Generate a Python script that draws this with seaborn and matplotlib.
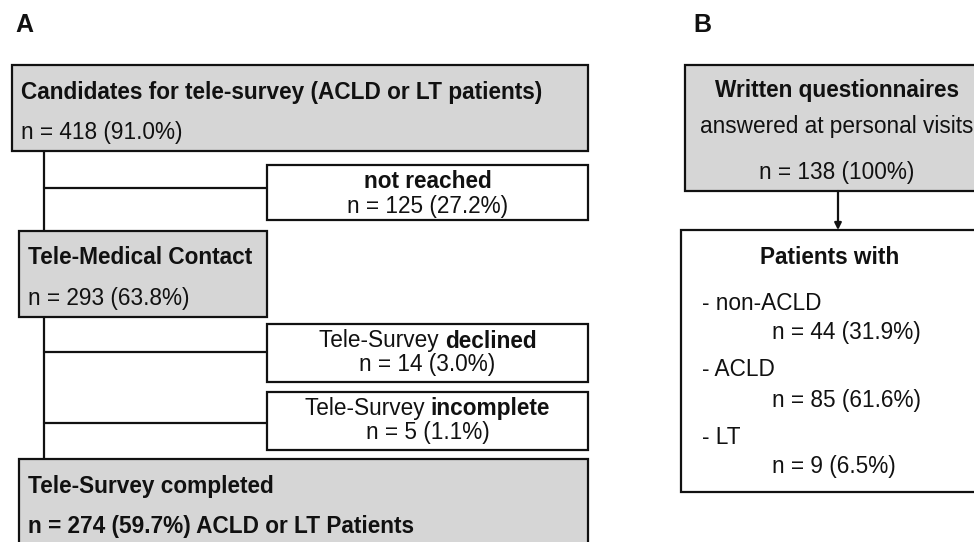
import matplotlib
matplotlib.use("Agg")
import matplotlib.pyplot as plt
from matplotlib.patches import Rectangle
import seaborn as sns

# ─── Data ─────────────────────────────────────────────────────────────────────
stage_titles = ["Candidates for tele-survey (ACLD or LT patients)",
                "Tele-Medical Contact",
                "Tele-Survey completed"]
stage_n = [418, 293, 274]
stage_pct = [91.0, 63.8, 59.7]
stage_suffix = ["", "", " ACLD or LT Patients"]

excl_prefix = ["", "Tele-Survey ", "Tele-Survey "]
excl_bold = ["not reached", "declined", "incomplete"]
excl_n = [125, 14, 5]
excl_pct = [27.2, 3.0, 1.1]

b_title = "Written questionnaires"
b_subtitle = "answered at personal visits"
b_total_n = 138
b_total_pct = 100
b_groups = ["non-ACLD", "ACLD", "LT"]
b_group_n = [44, 85, 9]
b_group_pct = [31.9, 61.6, 6.5]

# ─── Style ────────────────────────────────────────────────────────────────────
sns.set_theme(style="white")
plt.rcParams["font.family"] = ["Liberation Sans", "DejaVu Sans"]
GRAY = "#d6d6d6"
INK = "#111111"
LW = 1.6
FS = 16.3

fig = plt.figure(figsize=(9.74, 5.42), dpi=100)
ax = fig.add_axes([0, 0, 1, 1])
ax.set_xlim(0, 974)
ax.set_ylim(542, 0)
ax.axis("off")


def box(x0, y0, x1, y1, fill):
    ax.add_patch(Rectangle((x0, y0), x1 - x0, y1 - y0, facecolor=fill,
                           edgecolor=INK, lw=LW, zorder=2))


def mixed_line(xc, y, normal, bold):
    """Centred line made of a normal part followed by a bold part."""
    r = fig.canvas.get_renderer()
    t1 = ax.text(0, y, normal, fontsize=FS, color=INK, va="center", zorder=3)
    t2 = ax.text(0, y, bold, fontsize=FS, color=INK, fontweight="bold",
                 va="center", zorder=3)
    w1 = t1.get_window_extent(r).width if normal else 0
    w2 = t2.get_window_extent(r).width
    start = xc - (w1 + w2) / 2
    t1.set_x(start)
    t2.set_x(start + w1)


# ─── Panel A ──────────────────────────────────────────────────────────────────
ax.text(15, 25, "A", fontsize=18, fontweight="bold", va="center", color=INK)

trunk_x = 44
right = 588
stage_boxes = [(12, 65, right, 151), (19, 231, 267, 317), (19, 459, right, 565)]
stage_text_y = [(92, 133), (257, 298), (486, 527)]
stage_text_x = [21, 28, 28]

ax.plot([trunk_x, trunk_x], [151, 459], color=INK, lw=LW, zorder=1)

for i, (x0, y0, x1, y1) in enumerate(stage_boxes):
    box(x0, y0, x1, y1, GRAY)
    ty, ny = stage_text_y[i]
    ax.text(stage_text_x[i], ty, stage_titles[i], fontsize=FS, fontweight="bold",
            va="center", color=INK, zorder=3)
    ax.text(stage_text_x[i], ny,
            f"n = {stage_n[i]} ({stage_pct[i]:.1f}%){stage_suffix[i]}",
            fontsize=FS, va="center", color=INK, zorder=3,
            fontweight="bold" if stage_suffix[i] else "normal")

excl_boxes = [(267, 165, right, 220), (267, 324, right, 382), (267, 392, right, 450)]
excl_branch_y = [188, 352, 423]

for i, (x0, y0, x1, y1) in enumerate(excl_boxes):
    ax.plot([trunk_x, x0], [excl_branch_y[i]] * 2, color=INK, lw=LW, zorder=1)
    box(x0, y0, x1, y1, "white")
    xc = (x0 + x1) / 2
    mixed_line(xc, y0 + 17, excl_prefix[i], excl_bold[i])
    ax.text(xc, y0 + 41, f"n = {excl_n[i]} ({excl_pct[i]:.1f}%)", fontsize=FS,
            ha="center", va="center", color=INK, zorder=3)

# ─── Panel B ──────────────────────────────────────────────────────────────────
ax.text(693, 25, "B", fontsize=18, fontweight="bold", va="center", color=INK)

box(685, 65, 990, 191, GRAY)
bx = 837
ax.text(bx, 91, b_title, fontsize=FS, fontweight="bold", ha="center",
        va="center", color=INK, zorder=3)
ax.text(bx, 127, b_subtitle, fontsize=FS, ha="center", va="center",
        color=INK, zorder=3)
ax.text(bx, 172, f"n = {b_total_n} ({b_total_pct}%)", fontsize=FS,
        ha="center", va="center", color=INK, zorder=3)

ax.annotate("", xy=(838, 230), xytext=(838, 191),
            arrowprops=dict(arrowstyle="-|>", color=INK, lw=LW,
                            mutation_scale=10, shrinkA=0, shrinkB=0))

box(681, 230, 990, 492, "white")
ax.text(830, 257, "Patients with", fontsize=FS, fontweight="bold",
        ha="center", va="center", color=INK, zorder=3)
for i, g in enumerate(b_groups):
    gy = 303 + i * 67
    ax.text(702, gy, f"- {g}", fontsize=FS, va="center", color=INK, zorder=3)
    ax.text(772, gy + 30, f"n = {b_group_n[i]} ({b_group_pct[i]:.1f}%)",
            fontsize=FS, va="center", color=INK, zorder=3)

fig.savefig("out.png", dpi=100)
plt.close(fig)
